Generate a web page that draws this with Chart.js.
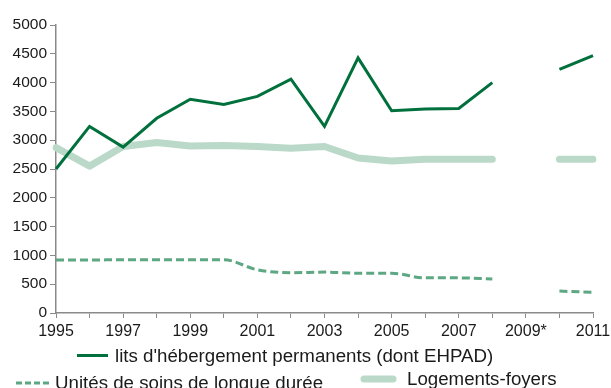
<!DOCTYPE html>
<html>
<head>
<meta charset="utf-8">
<script src="https://cdn.jsdelivr.net/npm/chart.js@4/dist/chart.umd.min.js"></script>
<style>
  html, body { margin: 0; padding: 0; background: #fff; }
  #wrap { position: relative; width: 611px; height: 388px; overflow: hidden; font-family: "Liberation Sans", Arial, sans-serif; }
  #c { position: absolute; left: 0; top: 0; }
  .leg { position: absolute; font-size: 18.7px; color: #1a1a1a; white-space: nowrap; line-height: 1; }
  .sw { position: absolute; }
</style>
</head>
<body>
<div id="wrap">
  <canvas id="c" width="611" height="388"></canvas>
  <div class="sw" id="sw1" style="left:77px;top:354px;width:31px;height:3px;background:#00703c;"></div>
  <div class="leg" id="lg1" style="left:115px;top:347px;"></div>
  <svg class="sw" style="left:16px;top:380px;" width="34" height="6"><line x1="0" y1="3" x2="33" y2="3" stroke="#5da883" stroke-width="3" stroke-dasharray="6,3"/></svg>
  <div class="leg" id="lg2" style="left:55px;top:374px;"></div>
  <svg class="sw" style="left:360px;top:375px;" width="38" height="8"><line x1="4" y1="4" x2="33" y2="4" stroke="#bbd9c8" stroke-width="7" stroke-linecap="round"/></svg>
  <div class="leg" id="lg3" style="left:407px;top:370px;"></div>
</div>
<script>
// Years on the horizontal axis (2009 has no data)
const years = ['1995','1996','1997','1998','1999','2000','2001','2002','2003','2004','2005','2006','2007','2008','2009*','2010','2011'];

// Series
const litsPermanents = [2500, 3240, 2880, 3380, 3710, 3620, 3760, 4060, 3240, 4430, 3510, 3540, 3550, 4000, null, 4230, 4470];
const logementsFoyers = [2870, 2550, 2890, 2960, 2900, 2910, 2890, 2860, 2890, 2690, 2640, 2670, 2670, 2670, null, 2670, 2670];
const soinsLongueDuree = [920, 920, 925, 925, 925, 925, 750, 700, 710, 690, 690, 610, 610, 590, null, 380, 360];

const seriesNames = [
  "lits d'hébergement permanents (dont EHPAD)",
  "Unités de soins de longue durée",
  "Logements-foyers"
];

const yTicks = [0, 500, 1000, 1500, 2000, 2500, 3000, 3500, 4000, 4500, 5000];

document.getElementById('lg1').textContent = seriesNames[0];
document.getElementById('lg2').textContent = seriesNames[1];
document.getElementById('lg3').textContent = seriesNames[2];

const axisColor = '#8a8a8a';
const fam = '"Liberation Sans", Arial, sans-serif';

new Chart(document.getElementById('c'), {
  type: 'line',
  data: {
    labels: years,
    datasets: [
      {
        label: seriesNames[2],
        data: logementsFoyers,
        borderColor: '#bbd9c8',
        borderWidth: 7,
        borderCapStyle: 'round',
        borderJoinStyle: 'round',
        tension: 0,
        pointRadius: 0,
        fill: false,
        order: 3
      },
      {
        label: seriesNames[1],
        data: soinsLongueDuree,
        borderColor: '#5da883',
        borderWidth: 3,
        borderDash: [8, 4],
        cubicInterpolationMode: 'monotone',
        pointRadius: 0,
        fill: false,
        order: 2
      },
      {
        label: seriesNames[0],
        data: litsPermanents,
        borderColor: '#00703c',
        borderWidth: 3,
        tension: 0,
        pointRadius: 0,
        fill: false,
        order: 1
      }
    ]
  },
  options: {
    responsive: false,
    animation: false,
    layout: { padding: { top: 25, right: 18, bottom: 45, left: 0 } },
    plugins: { legend: { display: false }, tooltip: { enabled: false } },
    scales: {
      x: {
        type: 'category',
        offset: false,
        grid: { display: true, drawOnChartArea: false, drawTicks: true, tickLength: 5, color: axisColor, lineWidth: 1 },
        border: { display: true, color: axisColor, width: 1.5 },
        ticks: {
          autoSkip: false,
          maxRotation: 0,
          padding: 4,
          color: '#1a1a1a',
          font: { family: fam, size: 16 },
          callback: function (v, i) { return i % 2 === 0 ? years[i] : ''; }
        },
        afterFit: function (s) { s.height = 30; s.paddingLeft = 0; s.paddingRight = 0; }
      },
      y: {
        min: 0,
        max: 5000,
        grid: { display: true, drawOnChartArea: false, drawTicks: true, tickLength: 6, color: axisColor, lineWidth: 1 },
        border: { display: true, color: axisColor, width: 1.5 },
        afterBuildTicks: function (s) { s.ticks = yTicks.map(v => ({ value: v })); },
        ticks: {
          padding: 3,
          color: '#1a1a1a',
          font: { family: fam, size: 15.5 },
          callback: function (v) { return String(v); }
        },
        afterFit: function (s) { s.width = 56; }
      }
    }
  }
});
</script>
</body>
</html>
